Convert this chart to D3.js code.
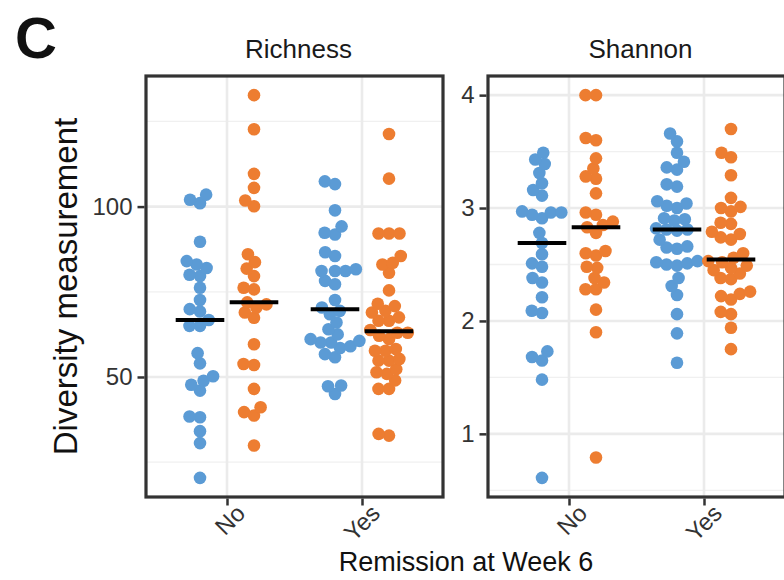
<!DOCTYPE html>
<html>
<head>
<meta charset="utf-8">
<script src="https://cdn.jsdelivr.net/npm/d3@7"></script>
<style>
  body { margin: 0; background: #fff; }
  text { font-family: "Liberation Sans", Arial, sans-serif; }
</style>
</head>
<body>
<div id="chart-area"></div>
<script>
// remission groups on the x axis
var groups = ["No", "Yes"];
var facets = ["Richness", "Shannon"];

// Richness values, blue and orange series per remission group
var richNoBlue = [103.5, 102, 101, 89.7, 84, 83, 82, 80, 79.6, 76.2, 72.6, 69.9, 69.2, 66.7, 65, 65, 57, 54, 50.2, 48.9, 47.7, 46, 38.2, 38.4, 34.1, 30.6, 20.4];
var richNoOrange = [132.7, 122.7, 109.6, 105.5, 101.8, 100.1, 86, 83.7, 81.8, 79.6, 76.2, 75.7, 71.9, 71.3, 70.4, 68.9, 67.4, 59.6, 53.8, 53.5, 46.5, 41.1, 39.7, 38.7, 29.9];
var richYesBlue = [107.4, 106.6, 98.9, 94.2, 92.3, 91.8, 86.6, 85.5, 81.6, 81.1, 81.1, 81.1, 78.2, 77.2, 72.6, 70.4, 69.4, 68.4, 66, 64, 62.5, 61.1, 60.6, 60.1, 60.1, 59, 58.5, 56.7, 55.8, 47.5, 47.3, 45];
var richYesOrange = [121.3, 108.2, 92.1, 92.1, 92.1, 85.5, 83.5, 83, 80.6, 75.4, 71.5, 70.8, 69.4, 68.9, 67.5, 66.5, 66.5, 63.8, 63, 63, 62.1, 61.1, 58.2, 57.7, 57.7, 55.3, 54.8, 54.8, 52.3, 51.4, 50.9, 49, 46.5, 46.5, 33.3, 32.8];

// Shannon values
var shanNoBlue = [3.49, 3.43, 3.39, 3.31, 3.22, 3.16, 3.11, 2.97, 2.96, 2.96, 2.94, 2.91, 2.78, 2.69, 2.59, 2.51, 2.48, 2.38, 2.34, 2.21, 2.09, 2.07, 1.73, 1.68, 1.65, 1.48, 0.61];
var shanNoOrange = [4.0, 4.0, 3.62, 3.6, 3.44, 3.35, 3.28, 3.26, 3.13, 2.96, 2.94, 2.88, 2.85, 2.83, 2.78, 2.62, 2.6, 2.58, 2.48, 2.47, 2.38, 2.34, 2.28, 2.28, 2.1, 1.9, 0.79];
var shanYesBlue = [3.66, 3.59, 3.49, 3.41, 3.36, 3.34, 3.21, 3.19, 3.06, 3.04, 3.02, 3.0, 2.9, 2.91, 2.89, 2.82, 2.81, 2.81, 2.8, 2.72, 2.66, 2.65, 2.64, 2.53, 2.52, 2.51, 2.5, 2.49, 2.38, 2.31, 2.23, 2.06, 1.89, 1.63];
var shanYesOrange = [3.7, 3.49, 3.45, 3.29, 3.09, 3.01, 3.0, 2.97, 2.87, 2.86, 2.79, 2.77, 2.74, 2.72, 2.6, 2.56, 2.53, 2.52, 2.49, 2.47, 2.45, 2.42, 2.38, 2.37, 2.26, 2.24, 2.22, 2.19, 2.08, 2.06, 1.94, 1.75];

var richTicks = [50, 100];
var richMinor = [25, 75, 125];
var shanTicks = [1, 2, 3, 4];
var shanMinor = [0.5, 1.5, 2.5, 3.5];

var colors = { blue: "#5b9bd5", orange: "#ed7d31" };

var panelsData = [
  { name: facets[0], ticks: richTicks, minor: richMinor,
    series: [
      { group: "No", col: "blue", vals: richNoBlue },
      { group: "No", col: "orange", vals: richNoOrange },
      { group: "Yes", col: "blue", vals: richYesBlue },
      { group: "Yes", col: "orange", vals: richYesOrange }
    ] },
  { name: facets[1], ticks: shanTicks, minor: shanMinor,
    series: [
      { group: "No", col: "blue", vals: shanNoBlue },
      { group: "No", col: "orange", vals: shanNoOrange },
      { group: "Yes", col: "blue", vals: shanYesBlue },
      { group: "Yes", col: "orange", vals: shanYesOrange }
    ] }
];

var width = 784, height = 580;
var panelTop = 76, panelBottom = 497;
var panelW = 297;
var panelX = [146, 488];
var r = 6.3, minDist = 10.5;
var font = "'Liberation Sans', Arial, sans-serif";

var svg = d3.select("#chart-area").append("svg")
  .attr("width", width)
  .attr("height", height);

// simple swarm layout: place each point at the smallest offset that does not collide
function swarm(vals, y) {
  var pts = vals.map(function(v) { return { v: v, y: y(v), dx: 0 }; })
    .sort(function(a, b) { return b.y - a.y; });
  var placed = [];
  pts.forEach(function(p) {
    var bad = [];
    placed.forEach(function(q) {
      var dy = Math.abs(q.y - p.y);
      if (dy < minDist) {
        var w = Math.sqrt(minDist * minDist - dy * dy);
        bad.push([q.dx - w, q.dx + w]);
      }
    });
    var cands = [0];
    bad.forEach(function(b) { cands.push(b[0], b[1]); });
    cands.sort(function(a, b) { return Math.abs(a) - Math.abs(b); });
    for (var i = 0; i < cands.length; i++) {
      var c = cands[i];
      var ok = bad.every(function(b) { return c <= b[0] + 1e-6 || c >= b[1] - 1e-6; });
      if (ok) { p.dx = c; break; }
    }
    placed.push(p);
  });
  return pts;
}

panelsData.forEach(function(pd, i) {
  var x0 = panelX[i];
  var all = [];
  pd.series.forEach(function(s) { all = all.concat(s.vals); });
  var ext = d3.extent(all);
  var pad = (ext[1] - ext[0]) * 0.05;

  var y = d3.scaleLinear()
    .domain([ext[0] - pad, ext[1] + pad])
    .range([panelBottom, panelTop]);

  var x = d3.scalePoint()
    .domain(groups)
    .range([x0, x0 + panelW])
    .padding(0.6);

  var step = x.step();
  var g = svg.append("g");

  // grid
  g.selectAll(".minor").data(pd.minor.filter(function(t) { return y(t) > panelTop && y(t) < panelBottom; }))
    .enter().append("line")
    .attr("x1", x0).attr("x2", x0 + panelW)
    .attr("y1", function(d) { return y(d); }).attr("y2", function(d) { return y(d); })
    .attr("stroke", "#f0f0f0").attr("stroke-width", 1.3);

  g.selectAll(".major").data(pd.ticks)
    .enter().append("line")
    .attr("x1", x0).attr("x2", x0 + panelW)
    .attr("y1", function(d) { return y(d); }).attr("y2", function(d) { return y(d); })
    .attr("stroke", "#ebebeb").attr("stroke-width", 2.6);

  g.selectAll(".vmajor").data(groups)
    .enter().append("line")
    .attr("x1", function(d) { return x(d); }).attr("x2", function(d) { return x(d); })
    .attr("y1", panelTop).attr("y2", panelBottom)
    .attr("stroke", "#ebebeb").attr("stroke-width", 2.6);

  // points
  pd.series.forEach(function(s) {
    var cx = x(s.group) + (s.col === "blue" ? -0.2 : 0.2) * step;
    var pts = swarm(s.vals, y);
    g.append("g").selectAll("circle").data(pts)
      .enter().append("circle")
      .attr("cx", function(d) { return cx + d.dx; })
      .attr("cy", function(d) { return d.y; })
      .attr("r", r)
      .attr("fill", colors[s.col]);
  });

  // median bars
  pd.series.forEach(function(s) {
    var cx = x(s.group) + (s.col === "blue" ? -0.2 : 0.2) * step;
    var m = d3.median(s.vals);
    g.append("line")
      .attr("x1", cx - 0.18 * step).attr("x2", cx + 0.18 * step)
      .attr("y1", y(m)).attr("y2", y(m))
      .attr("stroke", "#000").attr("stroke-width", 4);
  });

  // panel border
  g.append("rect")
    .attr("x", x0).attr("y", panelTop)
    .attr("width", panelW).attr("height", panelBottom - panelTop)
    .attr("fill", "none").attr("stroke", "#333").attr("stroke-width", 3.2);

  // axes
  var yAxis = d3.axisLeft(y).tickValues(pd.ticks).tickSize(7).tickPadding(5)
    .tickFormat(d3.format("~g"));
  var ya = g.append("g")
    .attr("transform", "translate(" + (x0 - 1.5) + ",0)")
    .call(yAxis);
  ya.select(".domain").remove();
  ya.selectAll("line").attr("stroke", "#333").attr("stroke-width", 2.5);
  ya.selectAll("text").attr("font-size", "24px").attr("fill", "#333")
    .style("font-family", font);

  var xAxis = d3.axisBottom(x).tickSize(7).tickPadding(4);
  var xa = g.append("g")
    .attr("transform", "translate(0," + (panelBottom + 1.5) + ")")
    .call(xAxis);
  xa.select(".domain").remove();
  xa.selectAll("line").attr("stroke", "#333").attr("stroke-width", 2.5);
  xa.selectAll("text")
    .attr("font-size", "24px").attr("fill", "#333")
    .style("font-family", font)
    .attr("text-anchor", "end")
    .attr("x", 2).attr("y", 25).attr("dy", 0)
    .attr("transform", "rotate(-45)");

  // strip title
  g.append("text")
    .attr("x", x0 + panelW / 2 + 4)
    .attr("y", 58)
    .attr("text-anchor", "middle")
    .attr("font-size", "26px")
    .attr("fill", "#1a1a1a")
    .text(pd.name);
});

svg.append("text")
  .attr("x", 15).attr("y", 58)
  .attr("font-size", "58px").attr("font-weight", "bold")
  .attr("fill", "#111")
  .text("C");

svg.append("text")
  .attr("transform", "translate(77," + ((panelTop + panelBottom) / 2) + ") rotate(-90)")
  .attr("text-anchor", "middle")
  .attr("font-size", "33px")
  .attr("fill", "#111")
  .text("Diversity measurement");

svg.append("text")
  .attr("x", 466).attr("y", 571)
  .attr("text-anchor", "middle")
  .attr("font-size", "27px")
  .attr("fill", "#111")
  .text("Remission at Week 6");
</script>
</body>
</html>
